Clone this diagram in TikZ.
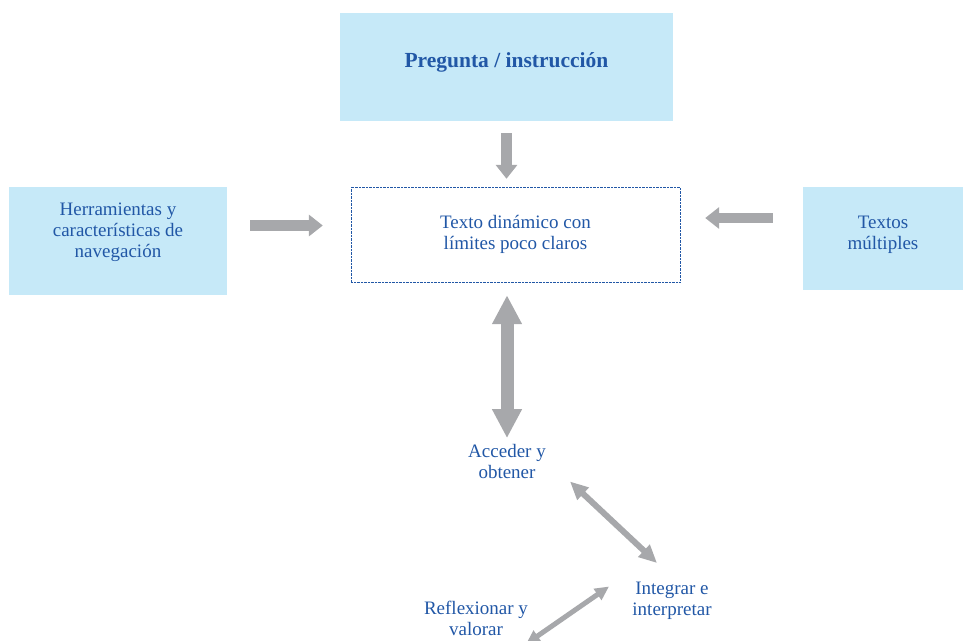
\documentclass[tikz,border=0pt]{standalone}
\usepackage{fontspec}
\setmainfont{Liberation Serif}
\usetikzlibrary{arrows.meta}
\usepackage{xcolor}
\definecolor{boxBlue}{HTML}{C6E9F8}
\definecolor{textBlue}{HTML}{2157A6}
\definecolor{arrowGray}{HTML}{A7A8AB}

\begin{document}
\begin{tikzpicture}[
  x=1pt,y=-1pt,
  every node/.style={align=center,text=textBlue,font=\fontsize{19}{21}\selectfont},
  infoBox/.style={fill=boxBlue,inner sep=0pt},
  titleBox/.style={infoBox,font=\fontsize{21.5}{24}\selectfont\bfseries},
  textBox/.style={draw=textBlue,densely dotted,thin,inner sep=0pt},
  stage/.style={inner sep=0pt},
  bigArrow/.style={-{Triangle[length=14pt,width=21pt]},line width=10.5pt,arrowGray},
  bothArrow/.style={{Triangle[length=29pt,width=28pt]}-{Triangle[length=29pt,width=28pt]},line width=13pt,arrowGray},
  midArrow/.style={{Triangle[length=18pt,width=16pt]}-{Triangle[length=18pt,width=16pt]},line width=6pt,arrowGray},
  smallArrow/.style={{Triangle[length=14pt,width=13pt]}-{Triangle[length=14pt,width=13pt]},line width=5pt,arrowGray}]

  \clip (0,0) rectangle (963,640);
  \useasboundingbox (0,0) rectangle (963,640);

  % boxes round the text
  \node[titleBox,minimum width=333pt,minimum height=108pt,text depth=14pt] (q) at (506.5,67) {Pregunta / instrucción};
  \node[textBox,minimum width=329pt,minimum height=95pt] (t) at (515.5,234.5) {Texto dinámico con\\límites poco claros};
  \node[infoBox,minimum width=218pt,minimum height=108pt,text depth=22pt] (h) at (118,241) {Herramientas y\\características de\\navegación};
  \node[infoBox,minimum width=160pt,minimum height=103pt,text depth=12pt] (m) at (883,238.5) {Textos\\múltiples};

  % reading stages
  \node[stage] (a) at (507,461.5) {Acceder y\\obtener};
  \node[stage] (i) at (672,600.5) {Integrar e\\interpretar};
  \node[stage] (r) at (476,618) {Reflexionar y\\valorar};

  % arrows into the text
  \draw[bigArrow,shorten <=12pt,shorten >=8pt] (q.south) -- (q.south |- t.north);
  \draw[bigArrow,shorten <=23pt,shorten >=28pt] (h.east |- 0,225.5) -- (t.west |- 0,225.5);
  \draw[bigArrow,shorten <=30pt,shorten >=25pt] (m.west |- 0,218) -- (t.east |- 0,218);

  % text and stages
  \draw[bothArrow,shorten <=13pt] (t.south -| a.north) -- ([yshift=6pt]a.north);
  \draw[midArrow] ([shift={(63,20)}]a.center) -- ([shift={(-15,-37.5)}]i.center);
  \draw[smallArrow] ([shift={(-63,-14)}]i.center) -- ([shift={(50,26)}]r.center);

\end{tikzpicture}
\end{document}
